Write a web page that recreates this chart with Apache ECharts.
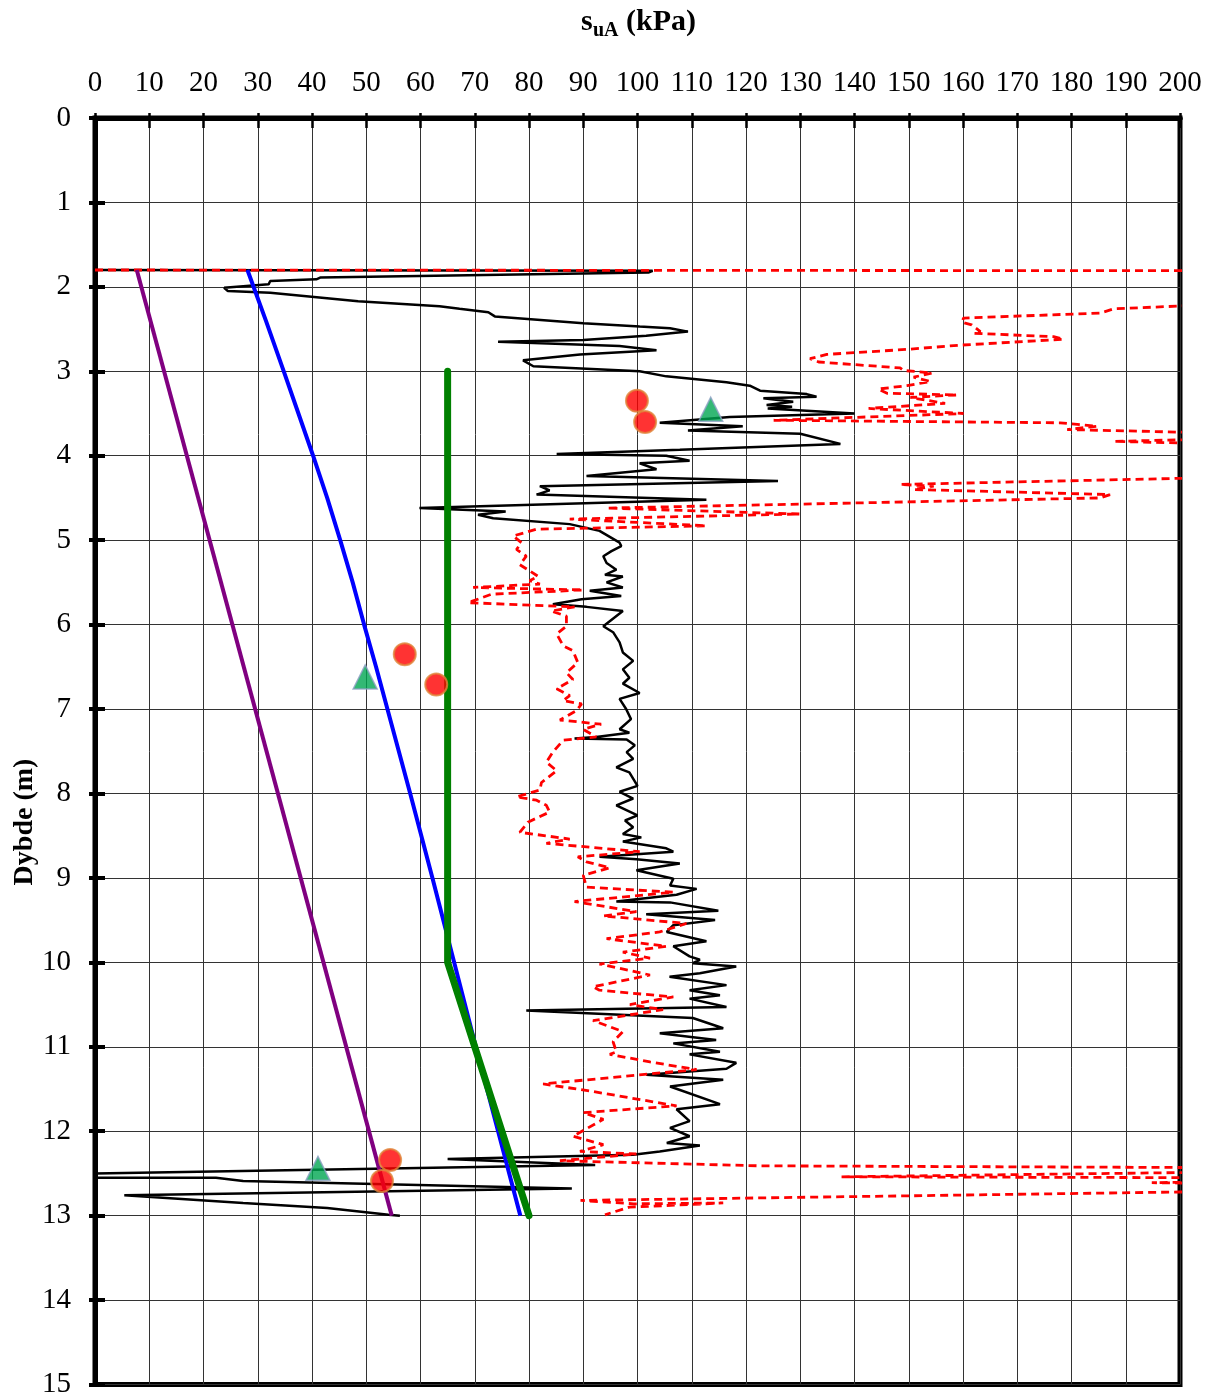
<!DOCTYPE html>
<html>
<head>
<meta charset="utf-8">
<title>suA profil</title>
<script src="https://cdn.jsdelivr.net/npm/echarts@6/dist/echarts.min.js"></script>
<style>
  html, body { margin: 0; padding: 0; background: #fff; }
  #main { width: 1217px; height: 1399px; }
</style>
</head>
<body>
<div id="main"></div>
<script>
// x = suA (kPa), y = dybde (m)
var xTicks = [0, 200, 10];
var yTicks = [0, 15, 1];

// CPT-tolket suA (svart heltrukken)
var cptSu = [
  [0,1.80],[102.8,1.81],[102,1.83],[41.5,1.89],[40.8,1.91],[32.3,1.93],[32,1.97],[23.8,2.01],[24.5,2.05],
  [32.3,2.07],[48.5,2.17],[63.5,2.23],[67.2,2.26],[72.5,2.30],[73.7,2.35],[90,2.43],[100.4,2.47],[106,2.49],
  [109.3,2.53],[101.6,2.58],[90,2.63],[74.3,2.65],[96.7,2.70],[103.5,2.75],[89.4,2.80],[78.9,2.87],[80.8,2.94],
  [100.4,3.0],[105.3,3.06],[116.4,3.13],[120.7,3.17],[122.6,3.23],[131.2,3.27],[133,3.30],[123.2,3.32],
  [128.7,3.36],[123.8,3.40],[128.5,3.42],[124,3.44],[140,3.50],[117,3.54],[104.1,3.61],[119.4,3.65],
  [109.3,3.70],[130,3.74],[137.4,3.86],[107.8,3.93],[85.1,3.98],[105.3,4.0],[109.6,4.06],[100.4,4.09],
  [103.5,4.16],[90.6,4.24],[125.9,4.30],[82,4.36],[83.8,4.41],[81.4,4.46],[112.7,4.52],[59.8,4.62],
  [75.7,4.66],[70.6,4.70],[73.4,4.74],[87.5,4.81],[93,4.89],[96.7,5.03],[97,5.07],[95.2,5.13],[93.7,5.19],
  [94.3,5.27],[96.1,5.35],[94,5.41],[97.3,5.43],[94.3,5.50],[97.3,5.56],[91.2,5.60],[97,5.66],[89.7,5.70],
  [84.4,5.76],[90.6,5.79],[97.3,5.84],[93.7,6.02],[95.5,6.09],[96.7,6.21],[97.3,6.33],[99.2,6.43],[97.3,6.53],
  [98.5,6.63],[97.3,6.70],[100.4,6.81],[96.7,6.88],[97.9,7.0],[98.8,7.12],[96.7,7.24],[98.5,7.28],[92.4,7.33],
  [88.4,7.35],[98,7.36],[99.5,7.43],[98,7.51],[99.2,7.59],[96.1,7.69],[98.5,7.75],[100,7.91],[96.7,7.98],
  [99.2,8.06],[96.1,8.14],[100,8.26],[97.7,8.32],[99.2,8.40],[97.3,8.48],[100.7,8.52],[97.3,8.57],[105.3,8.65],
  [106.6,8.69],[93,8.75],[99.8,8.78],[107.8,8.83],[99.8,8.91],[106.6,9.01],[106,9.09],[110.9,9.13],[107.2,9.20],
  [96.1,9.28],[106,9.29],[114.9,9.39],[101.6,9.43],[114.3,9.50],[106.6,9.56],[105.4,9.64],[112.7,9.75],
  [106.6,9.81],[109.6,9.93],[111.5,9.97],[110.2,10.01],[118.2,10.05],[111.5,10.13],[105.9,10.17],[116.4,10.27],
  [109.6,10.33],[115.2,10.39],[109.6,10.43],[116.4,10.53],[79.5,10.57],[110.2,10.66],[115.8,10.78],[104.1,10.84],
  [114.5,10.92],[106.6,10.96],[115.2,11.06],[109.6,11.09],[118.2,11.19],[116.4,11.26],[101.6,11.33],[115.8,11.39],
  [106,11.47],[115.2,11.68],[107.2,11.74],[109.6,11.88],[106,11.96],[109.6,12.06],[105.4,12.14],[111.5,12.17],
  [104.1,12.24],[99.2,12.28],[65,12.33],[92.2,12.40],[0,12.50],[0,12.55],[22.3,12.55],[27.3,12.59],[87.9,12.68],
  [5.4,12.76],[27.3,12.85],[42.8,12.91],[54.1,12.99],[56.2,13.0]
];

// andre tolkning (rød stiplet)
var cptSu2 = [
  [0,1.80],[240,1.81],[240,2.10],[210,2.20],[187.8,2.26],[185.3,2.31],[160.1,2.37],[159.8,2.42],[161.6,2.45],
  [163.2,2.53],[162,2.55],[176.7,2.59],[178.5,2.62],[159.5,2.69],[149.7,2.74],[134.9,2.80],[131.8,2.85],
  [133.4,2.89],[133.7,2.91],[148.4,2.96],[149,2.99],[154.3,3.02],[150.9,3.07],[154,3.12],[149.7,3.17],
  [144.4,3.21],[146,3.26],[158.9,3.28],[150.3,3.31],[156.7,3.38],[142.6,3.44],[160.1,3.50],[125.1,3.58],
  [177.9,3.61],[184.7,3.65],[179.2,3.69],[220,3.75],[215,3.79],[187.8,3.83],[220,3.88],[230,4.05],[220,4.24],
  [148.4,4.34],[154.6,4.36],[150.9,4.40],[187.1,4.46],[185.3,4.50],[94.3,4.62],[129.9,4.69],[87.5,4.75],
  [112.7,4.83],[81.4,4.87],[77.1,4.95],[78.6,5.03],[77.7,5.11],[79.5,5.19],[78.3,5.29],[79.8,5.35],[81.7,5.43],
  [80.1,5.48],[82,5.52],[69.7,5.56],[90,5.59],[73.1,5.64],[68.8,5.74],[88.4,5.79],[84.1,5.84],[86.9,5.90],
  [86.9,6.02],[85.1,6.11],[86.3,6.25],[88.1,6.31],[89,6.45],[86.9,6.57],[88.1,6.65],[85.1,6.76],[87.5,6.84],
  [86.3,6.90],[89.7,6.94],[88.7,7.02],[85.7,7.13],[93.3,7.18],[90,7.24],[92.4,7.33],[86.3,7.37],[84.4,7.51],
  [83.2,7.63],[85.1,7.73],[82.3,7.87],[82,7.96],[77.7,8.04],[81.4,8.08],[83.2,8.14],[83.8,8.22],[79.8,8.34],
  [78.3,8.46],[87.5,8.54],[83.2,8.59],[100.4,8.69],[89,8.75],[90.6,8.81],[94.9,8.88],[90,8.97],[90.6,9.11],
  [106.6,9.17],[88.4,9.28],[99.8,9.40],[93.7,9.45],[109,9.54],[104.1,9.64],[94.3,9.72],[105.3,9.81],[97.3,9.88],
  [102.3,9.95],[93,10.02],[102.3,10.15],[91.8,10.29],[93,10.33],[106.6,10.41],[98.6,10.50],[104.7,10.56],
  [91.8,10.69],[97.3,10.82],[95.5,10.94],[96.1,11.06],[94.9,11.09],[102.3,11.18],[110.9,11.27],[82.6,11.44],
  [91.8,11.53],[107.2,11.70],[90,11.78],[93.7,11.86],[88.1,12.06],[93.7,12.16],[89.4,12.24],[99.8,12.27],
  [85.7,12.35],[122.5,12.41],[240,12.44],[200,12.49],[137.6,12.54],[200,12.55],[240,12.57],[194.8,12.61],
  [240,12.64],[240,12.70],[200,12.72],[89.5,12.82],[99.3,12.86],[115.8,12.85],[98.5,12.90],[94,12.99]
];

// tolkede profiler
var profilLilla = [[7.7,1.8],[54.7,13.0]];
var profilBla = [
  [28.1,1.8],[31.5,2.4],[34.8,3.0],[37.5,3.5],[40.2,4.0],[42.8,4.5],[45.2,5.0],[47.5,5.5],[49.6,6.0],
  [51.8,6.5],[53.9,7.0],[56.0,7.5],[58.1,8.0],[62.2,9.0],[66.2,10.0],[70.2,11.0],[74.3,12.0],[78.4,13.0]
];
var profilGronn = [[65,3.0],[65,10.0],[80,13.0]];

// laboratorieforsøk
var labSirkel = [[99.9,3.35],[101.4,3.60],[57.1,6.35],[62.9,6.71],[54.4,12.34],[52.9,12.59]];
var labTrekant = [[113.5,3.45],[49.8,6.62],[41.1,12.44]];

var FONT = '"Liberation Serif", "Times New Roman", serif';

var myChart = echarts.init(document.getElementById('main'));
var option = {
  backgroundColor: '#ffffff',
  animation: false,
  grid: {
    left: 95,
    right: 37,
    top: 118,
    bottom: 9,
    show: true,
    borderColor: '#000',
    borderWidth: 5
  },
  graphic: [
    { type: 'text', left: 581, top: 7, style: { text: 's', font: 'bold 30px ' + FONT, fill: '#000' } },
    { type: 'text', left: 593, top: 21, style: { text: 'uA', font: 'bold 20px ' + FONT, fill: '#000' } },
    { type: 'text', left: 626, top: 7, style: { text: '(kPa)', font: 'bold 30px ' + FONT, fill: '#000' } },
    {
      type: 'text', x: 25, y: 822, rotation: Math.PI / 2,
      style: { text: 'Dybde (m)', font: 'bold 28px ' + FONT, fill: '#000', align: 'center', verticalAlign: 'middle' }
    }
  ],
  xAxis: [{
    type: 'value',
    position: 'top',
    min: xTicks[0],
    max: xTicks[1],
    interval: xTicks[2],
    axisLine: { show: true, lineStyle: { color: '#000', width: 5 } },
    axisTick: { show: true, inside: true, length: 10, lineStyle: { color: '#000', width: 2.5 } },
    axisLabel: { margin: 20, color: '#000', fontFamily: FONT, fontSize: 29 },
    splitLine: { show: true, lineStyle: { color: '#333', width: 1 } }
  }, {
    // korte ytre tikk
    type: 'value',
    position: 'top',
    min: xTicks[0],
    max: xTicks[1],
    interval: xTicks[2],
    axisLine: { show: true, lineStyle: { color: '#000', width: 5 } },
    axisTick: { show: true, inside: false, length: 5, lineStyle: { color: '#000', width: 2.5 } },
    axisLabel: { show: false },
    splitLine: { show: false }
  }],
  yAxis: [{
    type: 'value',
    inverse: true,
    min: yTicks[0],
    max: yTicks[1],
    interval: yTicks[2],
    axisLine: { show: true, lineStyle: { color: '#000', width: 5 } },
    axisTick: { show: true, inside: true, length: 10, lineStyle: { color: '#000', width: 4 } },
    axisLabel: { margin: 24, color: '#000', fontFamily: FONT, fontSize: 29 },
    splitLine: { show: true, lineStyle: { color: '#333', width: 1 } }
  }, {
    type: 'value',
    position: 'left',
    inverse: true,
    min: yTicks[0],
    max: yTicks[1],
    interval: yTicks[2],
    axisLine: { show: true, lineStyle: { color: '#000', width: 5 } },
    axisTick: { show: true, inside: false, length: 6, lineStyle: { color: '#000', width: 4 } },
    axisLabel: { show: false },
    splitLine: { show: false }
  }],
  series: [
    {
      type: 'line', name: 'CPT', data: cptSu, symbol: 'none', z: 3,
      lineStyle: { color: '#000', width: 2.5 }
    },
    {
      type: 'line', name: 'CPT 2', data: cptSu2, symbol: 'none', z: 4,
      lineStyle: { color: '#ff0000', width: 2.8, type: [8, 5] }
    },
    {
      type: 'line', name: 'lilla', data: profilLilla, symbol: 'none', z: 5,
      lineStyle: { color: '#800080', width: 4 }
    },
    {
      type: 'line', name: 'blå', data: profilBla, symbol: 'none', z: 5,
      lineStyle: { color: '#0000ff', width: 4 }
    },
    {
      type: 'line', name: 'grønn', data: profilGronn, symbol: 'none', z: 6,
      lineStyle: { color: '#008000', width: 7, cap: 'round', join: 'round' }
    },
    {
      type: 'scatter', name: 'sirkel', data: labSirkel, symbol: 'circle', symbolSize: 22, z: 8,
      itemStyle: { color: '#ff0000', borderColor: '#e0863a', borderWidth: 2 }
    },
    {
      type: 'scatter', name: 'trekant', data: labTrekant, symbol: 'triangle', symbolSize: 24, z: 8,
      itemStyle: { color: '#00a651', borderColor: '#8da0c4', borderWidth: 1.5 }
    }
  ]
};
myChart.setOption(option);
</script>
</body>
</html>
